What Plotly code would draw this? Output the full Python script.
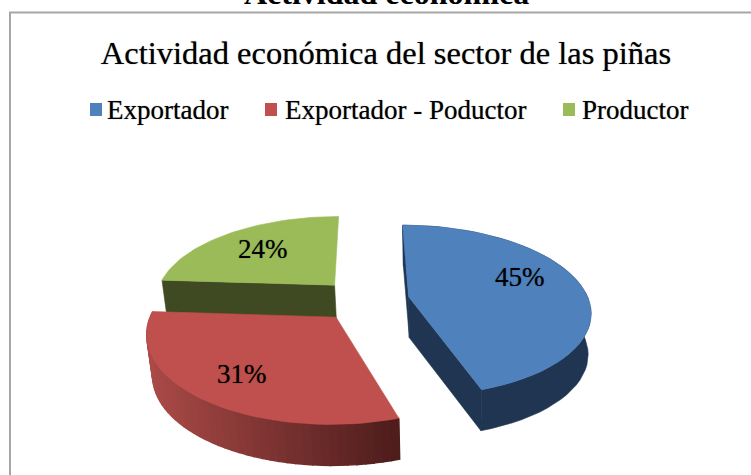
import math
import plotly.graph_objects as go

categories = ["Exportador", "Exportador - Poductor", "Productor"]
values = [45, 31, 24]
top_colors = ["#4F81BD", "#C0504D", "#9BBB59"]
wall_colors = ["#1F3552", None, "#3F4922"]
chart_title = "Actividad económica del sector de las piñas"
page_heading = "Actividad económica"

W, H = 751, 475
X0, Y0, A, B, K = 364.5, 300, 180, 84, 0.16
EXPLODE, DEPTH = 0.25, 41
SERIF = "Liberation Serif"
SOFT = "0 0 1px rgba(0,0,0,0.55)"

total = sum(values)
starts, cum = [], 0
for v in values:
    starts.append(cum / total * 360)
    cum += v


def project(theta, r, cx, cy):
    t = math.radians(theta)
    wx, wy = cx + r * math.sin(t), cy + r * math.cos(t)
    s = 1 / (1 + K * wy)
    return X0 + A * wx * s, Y0 - B * wy * s


def drop(p):
    return 442 + (p[0] - 442) * 0.98, p[1] + DEPTH


def poly(points, color, name=None, width=0.6):
    return go.Scatter(
        x=[p[0] for p in points] + [points[0][0]],
        y=[p[1] for p in points] + [points[0][1]],
        mode="lines", fill="toself", fillcolor=color,
        line=dict(color=color, width=width),
        name=name, showlegend=False, hoverinfo="skip" if name is None else "name",
    )


def lerp_red(f):
    c0, c1 = (170, 74, 71), (78, 29, 28)
    return "rgb(%d,%d,%d)" % tuple(round(a + (b - a) * f) for a, b in zip(c0, c1))


fig = go.Figure()
for i in [2, 0, 1]:  # back to front
    a0 = starts[i]
    span = values[i] / total * 360
    mid = math.radians(a0 + span / 2)
    cx, cy = EXPLODE * math.sin(mid), EXPLODE * math.cos(mid)
    n = 48
    arc = [project(a0 + span * j / n, 1, cx, cy) for j in range(n + 1)]
    center = project(0, 0, cx, cy)
    if i == 2:  # back slice: only the wall facing the viewer shows
        fig.add_trace(poly([center, arc[0], drop(arc[0]), drop(center)], wall_colors[i]))
    elif i == 0:
        for edge in (arc[0], arc[-1]):
            fig.add_trace(poly([center, edge, drop(edge), drop(center)], wall_colors[i]))
        fig.add_trace(poly(arc + [drop(p) for p in reversed(arc)], wall_colors[i]))
    else:
        for j in range(n):
            q = [arc[j], arc[j + 1], drop(arc[j + 1]), drop(arc[j])]
            col = lerp_red((arc[j][0] - 150) / (398 - 150))
            fig.add_trace(poly(q, col, width=1.4))
    fig.add_trace(poly([center] + arc, top_colors[i], name=categories[i]))

fig.add_shape(type="rect", xref="x", yref="y", x0=10, y0=12.5, x1=760, y1=490,
              line=dict(color="#A6A6A6", width=2), layer="below")

label_pos = [(520, 277), (242, 374), (263, 249)]
for v, (lx, ly) in zip(values, label_pos):
    fig.add_annotation(x=lx, y=ly, xref="x", yref="y", text=f"{v}%", showarrow=False,
                       font=dict(family=SERIF, size=27, color="#000000", shadow=SOFT))

swatch_x = [90, 265, 563]
text_x = [105, 283, 580]
for name, col, sx, tx in zip(categories, top_colors, swatch_x, text_x):
    fig.add_shape(type="rect", xref="x", yref="y", x0=sx, x1=sx + 12, y0=103, y1=116,
                  fillcolor=col, line=dict(width=0))
    fig.add_annotation(x=tx, y=110, xref="x", yref="y", text=name, showarrow=False,
                       xanchor="left", font=dict(family=SERIF, size=27, color="#000000", shadow=SOFT))

fig.add_annotation(x=387 / W, y=1 + 7 / H, xref="paper", yref="paper", text=f"<b>{page_heading}</b>",
                   showarrow=False, yanchor="middle",
                   font=dict(family=SERIF, size=32, color="#000000"))

fig.update_layout(
    width=W, height=H, margin=dict(l=0, r=0, t=0, b=0),
    paper_bgcolor="white", plot_bgcolor="white", showlegend=False,
    title=dict(text=chart_title, x=386 / W, xanchor="center", y=1 - 53 / H, yanchor="middle",
               font=dict(family=SERIF, size=32.5, color="#000000", shadow=SOFT)),
    xaxis=dict(range=[0, W], visible=False, fixedrange=True),
    yaxis=dict(range=[H, 0], visible=False, fixedrange=True),
)
fig.write_html("out.html", config={"displayModeBar": False},
               post_script="document.body.style.margin='0';document.body.style.overflow='hidden';")
